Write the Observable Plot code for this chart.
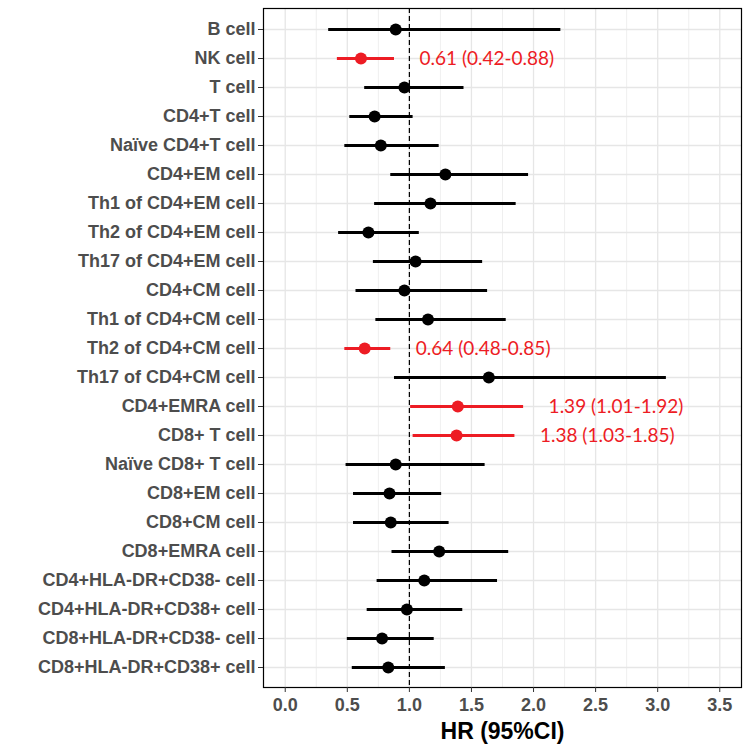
<!DOCTYPE html>
<html>
<head>
<meta charset="utf-8">
<script src="https://cdn.jsdelivr.net/npm/d3@7"></script>
<script src="https://cdn.jsdelivr.net/npm/@observablehq/plot@0.6"></script>
<style>
  html, body { margin: 0; padding: 0; background: white; }
  #chart svg { display: block; }
</style>
</head>
<body>
<div id="chart"></div>
<script>
const categories = [
  "B cell", "NK cell", "T cell", "CD4+T cell", "Naïve CD4+T cell", "CD4+EM cell",
  "Th1 of CD4+EM cell", "Th2 of CD4+EM cell", "Th17 of CD4+EM cell", "CD4+CM cell",
  "Th1 of CD4+CM cell", "Th2 of CD4+CM cell", "Th17 of CD4+CM cell", "CD4+EMRA cell",
  "CD8+ T cell", "Naïve CD8+ T cell", "CD8+EM cell", "CD8+CM cell", "CD8+EMRA cell",
  "CD4+HLA-DR+CD38- cell", "CD4+HLA-DR+CD38+ cell", "CD8+HLA-DR+CD38- cell", "CD8+HLA-DR+CD38+ cell"
];
const hr    = [0.89, 0.61, 0.96, 0.72, 0.77, 1.29, 1.17, 0.67, 1.05, 0.96, 1.15, 0.64, 1.64, 1.39, 1.38, 0.89, 0.84, 0.85, 1.24, 1.12, 0.98, 0.78, 0.83];
const lower = [0.35, 0.42, 0.64, 0.52, 0.48, 0.85, 0.72, 0.43, 0.71, 0.57, 0.73, 0.48, 0.88, 1.01, 1.03, 0.49, 0.55, 0.55, 0.86, 0.74, 0.66, 0.50, 0.54];
const upper = [2.22, 0.88, 1.44, 1.03, 1.24, 1.96, 1.86, 1.08, 1.59, 1.63, 1.78, 0.85, 3.07, 1.92, 1.85, 1.61, 1.26, 1.32, 1.80, 1.71, 1.43, 1.20, 1.29];
const majorTicks = [0, 0.5, 1, 1.5, 2, 2.5, 3, 3.5];
const minorTicks = [0.25, 0.75, 1.25, 1.75, 2.25, 2.75, 3.25];
const xTitle = "HR (95%CI)";

const RED = "#ED1C24";
const data = categories.map((name, i) => ({
  name, hr: hr[i], lo: lower[i], hi: upper[i],
  sig: lower[i] > 1 || upper[i] < 1
}));
data.forEach(d => {
  d.color = d.sig ? RED : "black";
  d.label = `${d.hr.toFixed(2)} (${d.lo.toFixed(2)}-${d.hi.toFixed(2)})`;
});
const sigData = data.filter(d => d.sig);

const chart = Plot.plot({
  width: 750,
  height: 751,
  marginLeft: 263,
  marginRight: 9,
  marginTop: 8,
  marginBottom: 64,
  style: { fontFamily: "'Liberation Sans', Arial, sans-serif", background: "white" },
  x: { domain: [-0.175, 3.675] },
  y: { type: "point", domain: categories, padding: 0.6 },
  marks: [
    Plot.ruleX(minorTicks, { stroke: "#ebebeb", strokeWidth: 0.8 }),
    Plot.ruleX(majorTicks, { stroke: "#e6e6e6", strokeWidth: 1.3 }),
    Plot.ruleY(categories, { stroke: "#e6e6e6", strokeWidth: 1.3 }),
    Plot.ruleX([1], { stroke: "black", strokeWidth: 1.2, strokeDasharray: "5,3" }),
    Plot.ruleY(data, { y: "name", x1: "lo", x2: "hi", stroke: "color", strokeWidth: 3 }),
    Plot.dot(data, { x: "hr", y: "name", fill: "color", r: 6, stroke: "none" }),
    Plot.text(sigData, {
      x: "hi", y: "name", text: "label", dx: 25, textAnchor: "start",
      fill: RED, fontSize: 19, fontFamily: "Lato, 'Open Sans', sans-serif"
    }),
    Plot.frame({ stroke: "black", strokeWidth: 1.2 }),
    Plot.axisY({
      label: null, tickSize: 5, tickPadding: 3, stroke: "#333", fill: "#4d4d4d",
      fontSize: 18, fontWeight: "bold"
    }),
    Plot.axisX(majorTicks, {
      label: null, tickSize: 5, tickPadding: 6, stroke: "#333", fill: "#4d4d4d",
      fontSize: 18, fontWeight: "bold", tickFormat: d3.format(".1f")
    }),
    Plot.text([xTitle], {
      frameAnchor: "bottom", lineAnchor: "middle", dy: 44, text: d => d,
      fontSize: 23, fontWeight: "bold", fill: "black"
    })
  ]
});
document.getElementById("chart").append(chart);
</script>
</body>
</html>
